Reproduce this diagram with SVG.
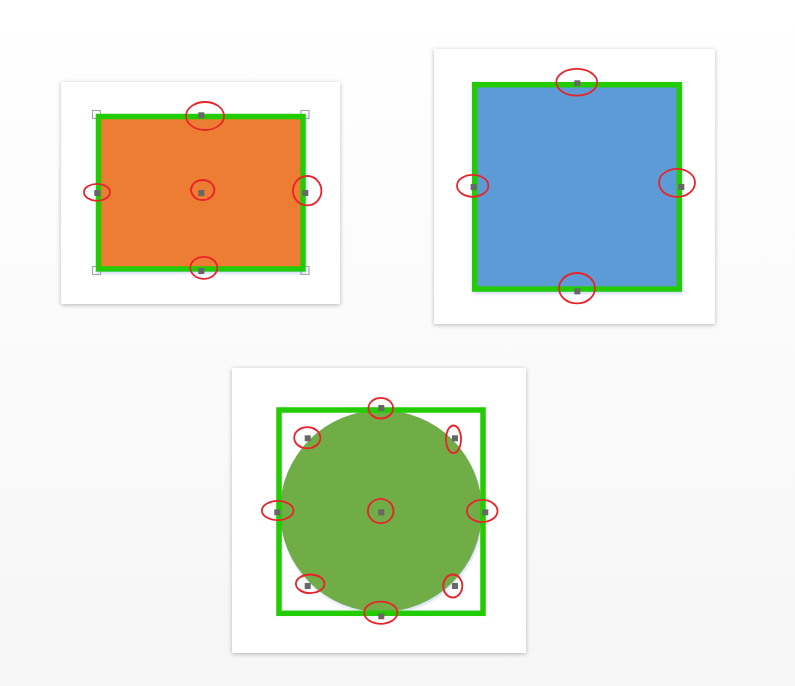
<svg xmlns="http://www.w3.org/2000/svg" width="795" height="686" viewBox="0 0 795 686">
  <defs>
    <linearGradient id="bg" x1="0" y1="0" x2="0" y2="1">
      <stop offset="0" stop-color="#ffffff"/>
      <stop offset="1" stop-color="#f6f6f6"/>
    </linearGradient>
    <filter id="cardShadow" x="-10%" y="-10%" width="120%" height="120%">
      <feDropShadow dx="0" dy="1" stdDeviation="2" flood-color="#000" flood-opacity="0.28"/>
    </filter>
    <filter id="shapeShadow" x="-10%" y="-10%" width="125%" height="125%">
      <feDropShadow dx="1" dy="2" stdDeviation="1.5" flood-color="#7f9fd8" flood-opacity="0.35"/>
    </filter>
    <style>
      .card { fill: #ffffff; filter: url(#cardShadow); }
      .frame { fill: none; stroke: #22cc00; stroke-width: 5.5; }
      .pt { fill: #676767; }
      .ring { fill: none; stroke: #e8242b; stroke-width: 1.8; }
      .corner { fill: #ffffff; stroke: #a8a8a8; stroke-width: 1.2; }
    </style>
  </defs>
  <rect x="0" y="0" width="795" height="686" fill="url(#bg)"/>

  <g id="connectors"></g>

  <g id="node-orange-rect">
    <rect class="card" x="61" y="82" width="279" height="222"/>
    <rect class="corner" x="92.5" y="110.5" width="8" height="8"/>
    <rect class="corner" x="301" y="110.5" width="8" height="8"/>
    <rect class="corner" x="92.5" y="266.5" width="8" height="8"/>
    <rect class="corner" x="301" y="266.5" width="8" height="8"/>
    <rect x="98.5" y="116.5" width="204.5" height="152.5" fill="#ed7d31" stroke="#22cc00" stroke-width="5.5" filter="url(#shapeShadow)"/>
    <rect class="pt" x="198.3" y="112.3" width="6" height="6"/>
    <rect class="pt" x="94.3" y="190" width="6" height="6"/>
    <rect class="pt" x="198.3" y="190" width="6" height="6"/>
    <rect class="pt" x="302.3" y="190" width="6" height="6"/>
    <rect class="pt" x="198.3" y="268" width="6" height="6"/>
    <ellipse class="ring" cx="205" cy="116" rx="19" ry="14"/>
    <ellipse class="ring" cx="97" cy="192.3" rx="13" ry="8.5"/>
    <ellipse class="ring" cx="202.7" cy="190" rx="11.7" ry="10"/>
    <ellipse class="ring" cx="307.2" cy="190.7" rx="14.2" ry="14.7"/>
    <ellipse class="ring" cx="203.8" cy="267.8" rx="13.5" ry="11"/>
  </g>

  <g id="node-blue-square">
    <rect class="card" x="434" y="49" width="281" height="275"/>
    <rect x="474.7" y="84.7" width="204.6" height="204.4" fill="#5b9bd5" stroke="#22cc00" stroke-width="5.5" filter="url(#shapeShadow)"/>
    <rect class="pt" x="574.3" y="80.3" width="6" height="6"/>
    <rect class="pt" x="470.7" y="184" width="6" height="6"/>
    <rect class="pt" x="678.3" y="184" width="6" height="6"/>
    <rect class="pt" x="574.3" y="288.3" width="6" height="6"/>
    <ellipse class="ring" cx="576.7" cy="82.3" rx="20.4" ry="13.4"/>
    <ellipse class="ring" cx="472.7" cy="185.8" rx="15.7" ry="11"/>
    <ellipse class="ring" cx="677" cy="182.8" rx="18" ry="14"/>
    <ellipse class="ring" cx="577" cy="288.2" rx="18" ry="15.2"/>
  </g>

  <g id="node-green-circle">
    <rect class="card" x="232" y="368" width="294" height="285"/>
    <circle cx="381" cy="511" r="101" fill="#70ad47" filter="url(#shapeShadow)"/>
    <rect class="frame" x="279" y="410" width="204" height="203.3" stroke-width="6"/>
    <rect class="pt" x="378.3" y="405" width="6" height="6"/>
    <rect class="pt" x="304.7" y="435.3" width="6" height="6"/>
    <rect class="pt" x="452" y="435.3" width="6" height="6"/>
    <rect class="pt" x="274.3" y="509.3" width="6" height="6"/>
    <rect class="pt" x="378.3" y="509.3" width="6" height="6"/>
    <rect class="pt" x="482.3" y="509.3" width="6" height="6"/>
    <rect class="pt" x="304.7" y="583" width="6" height="6"/>
    <rect class="pt" x="452" y="583" width="6" height="6"/>
    <rect class="pt" x="378.3" y="613.3" width="6" height="6"/>
    <ellipse class="ring" cx="380.8" cy="408.2" rx="12.3" ry="10.3"/>
    <ellipse class="ring" cx="307.3" cy="437.8" rx="13.1" ry="10.6"/>
    <ellipse class="ring" cx="453.5" cy="439.3" rx="7.6" ry="13.8"/>
    <ellipse class="ring" cx="277.7" cy="510.5" rx="15.8" ry="9.6"/>
    <ellipse class="ring" cx="380.7" cy="511" rx="12.8" ry="12.1"/>
    <ellipse class="ring" cx="482.2" cy="511" rx="15.3" ry="11.1"/>
    <ellipse class="ring" cx="310.2" cy="583.8" rx="14.3" ry="9.3"/>
    <ellipse class="ring" cx="452.8" cy="586" rx="9.6" ry="11.5"/>
    <ellipse class="ring" cx="380.8" cy="612.7" rx="16.6" ry="11.1"/>
  </g>
</svg>
